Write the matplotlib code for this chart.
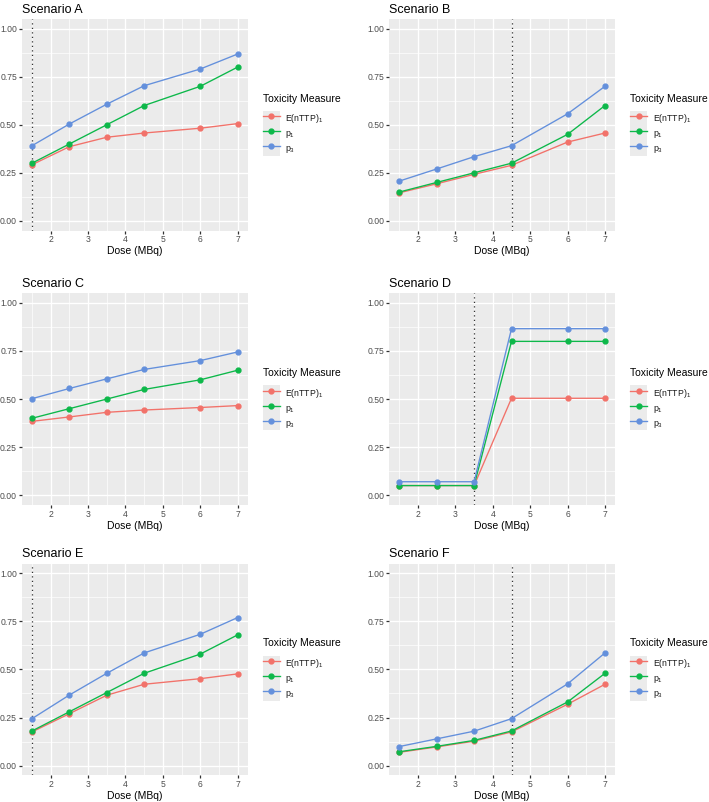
import numpy as np
import matplotlib
matplotlib.use('Agg')
import matplotlib.pyplot as plt
from matplotlib.legend_handler import HandlerLine2D
from matplotlib.patches import Rectangle
from matplotlib.ticker import MultipleLocator


# ================================ Data =====================================

dose = [1.5, 2.5, 3.5, 4.5, 6, 7]

a_enttp = [0.292, 0.386, 0.435, 0.457, 0.482, 0.506]
a_p1 = [0.30, 0.40, 0.50, 0.60, 0.70, 0.80]
a_p3 = [0.391, 0.504, 0.607, 0.703, 0.790, 0.868]

b_enttp = [0.146, 0.193, 0.242, 0.289, 0.410, 0.457]
b_p1 = [0.15, 0.20, 0.25, 0.30, 0.45, 0.60]
b_p3 = [0.207, 0.270, 0.334, 0.391, 0.557, 0.700]

c_enttp = [0.384, 0.407, 0.431, 0.443, 0.456, 0.466]
c_p1 = [0.40, 0.45, 0.50, 0.55, 0.60, 0.65]
c_p3 = [0.502, 0.555, 0.605, 0.654, 0.700, 0.745]

d_enttp = [0.05, 0.05, 0.05, 0.504, 0.504, 0.504]
d_p1 = [0.05, 0.05, 0.05, 0.80, 0.80, 0.80]
d_p3 = [0.07, 0.07, 0.07, 0.866, 0.866, 0.866]

e_enttp = [0.175, 0.270, 0.366, 0.423, 0.452, 0.477]
e_p1 = [0.18, 0.28, 0.38, 0.48, 0.58, 0.68]
e_p3 = [0.244, 0.367, 0.480, 0.586, 0.683, 0.770]

f_enttp = [0.069, 0.097, 0.127, 0.175, 0.319, 0.423]
f_p1 = [0.072, 0.10, 0.131, 0.18, 0.331, 0.48]
f_p3 = [0.099, 0.139, 0.179, 0.244, 0.425, 0.586]

titles = ['Scenario A', 'Scenario B', 'Scenario C', 'Scenario D', 'Scenario E', 'Scenario F']
series = [(a_enttp, a_p1, a_p3), (b_enttp, b_p1, b_p3), (c_enttp, c_p1, c_p3),
          (d_enttp, d_p1, d_p3), (e_enttp, e_p1, e_p3), (f_enttp, f_p1, f_p3)]
mtd_dose = [1.5, 4.5, None, 3.5, 1.5, 4.5]

labels = ['E(nTTP)$_1$', 'p$_1$', 'p$_3$']
colors = ['#F2726A', '#0DB84A', '#6490DC']


# ================================ Style ====================================

plt.rcParams['font.family'] = ['Liberation Sans', 'DejaVu Sans']
plt.rcParams['mathtext.fontset'] = 'custom'
plt.rcParams['mathtext.rm'] = 'Liberation Sans'
plt.rcParams['mathtext.it'] = 'Liberation Sans:italic'
plt.rcParams['mathtext.bf'] = 'Liberation Sans:bold'


class KeyHandler(HandlerLine2D):
    # grey key background like ggplot legends
    def create_artists(self, legend, orig_handle, xdescent, ydescent, width, height, fontsize, trans):
        extra = legend.labelspacing * fontsize / 2
        bg = Rectangle((-xdescent, -ydescent - extra), width, height + 2 * extra,
                       facecolor='#EBEBEB', edgecolor='none', transform=trans)
        arts = super().create_artists(legend, orig_handle, xdescent, ydescent,
                                      width, height, fontsize, trans)
        return [bg] + arts


def draw_panel(ax, title, vals, vline):
    ax.set_facecolor('#EBEBEB')
    for s in ax.spines.values():
        s.set_visible(False)

    ax.set_xlim(1.225, 7.275)
    ax.set_ylim(-0.05, 1.05)
    ax.xaxis.set_major_locator(MultipleLocator(1))
    ax.xaxis.set_minor_locator(MultipleLocator(0.5))
    ax.yaxis.set_major_locator(MultipleLocator(0.25))
    ax.yaxis.set_minor_locator(MultipleLocator(0.125))
    ax.yaxis.set_major_formatter(matplotlib.ticker.FormatStrFormatter('%.2f'))
    ax.set_axisbelow(True)
    ax.grid(which='major', color='white', lw=0.97)
    ax.grid(which='minor', color='white', lw=0.5)
    ax.tick_params(which='major', length=1.9, width=0.9, color='#333333',
                   labelcolor='#4D4D4D', labelsize=6.2, pad=1.5)
    ax.tick_params(which='minor', length=0)

    if vline is not None:
        ax.axvline(vline, color='#333333', lw=0.9, linestyle=(0, (1, 2.6)), zorder=1.5)

    handles = []
    for v, c, lab in zip(vals, colors, labels):
        h, = ax.plot(dose, v, color=c, lw=0.97, marker='o', ms=3.5, label=lab)
        handles.append(h)

    ax.set_title(title, loc='left', fontsize=9, pad=4.5, color='black')
    ax.set_xlabel('Dose (MBq)', fontsize=7.5, labelpad=1.5, color='black')

    leg = ax.legend(handles=handles, loc='center left', bbox_to_anchor=(1.066, 0.5),
                    frameon=False, title='Toxicity Measure', title_fontsize=7.5,
                    fontsize=6.3, handlelength=1.95, handleheight=2.15, labelspacing=0.07,
                    handletextpad=0.6, borderpad=0, borderaxespad=0, alignment='left',
                    handler_map={matplotlib.lines.Line2D: KeyHandler()})
    # more room between legend title and keys
    leg._legend_box.sep = 5.5
    for t in leg.get_texts():
        t.set_color('#1A1A1A')


# ================================ Main =====================================

fig = plt.figure(figsize=(7.09, 8.02), dpi=100)

col_left = [21.7 / 709, 389 / 709]
col_w = 226.3 / 709
row_top = [19, 293.3, 563.7]
row_h = 211.5

for i in range(6):
    r, c = divmod(i, 2)
    bottom = 1 - (row_top[r] + row_h) / 802
    ax = fig.add_axes([col_left[c], bottom, col_w, row_h / 802])
    draw_panel(ax, titles[i], series[i], mtd_dose[i])

fig.savefig('out.png', dpi=100)
